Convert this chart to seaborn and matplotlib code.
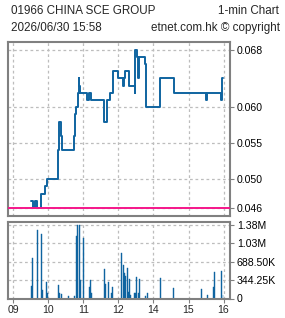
import matplotlib
matplotlib.use("Agg")
import matplotlib.pyplot as plt
import seaborn as sns
import pandas as pd

# ---------------- data ----------------
title_left = "01966 CHINA SCE GROUP"
title_right = "1-min Chart"
subtitle_left = "2026/06/30 15:58"
subtitle_right = "etnet.com.hk \u00a9 copyright"

price_times = ["09:31", "09:33", "09:38", "09:41", "09:48", "09:55", "09:57",
               "10:17", "10:18", "10:21", "10:23", "10:44", "10:46", "10:47",
               "10:50", "10:52", "10:53", "10:54", "11:06", "11:10", "11:13",
               "11:35", "11:41", "11:46", "11:50", "13:00", "13:07", "13:09",
               "13:11", "13:18", "13:28", "13:29", "13:31", "13:33", "13:34",
               "13:36", "13:45", "13:47", "13:48", "14:11", "14:12", "14:35",
               "15:30", "15:32", "15:56", "15:58", "15:59"]
price_values = [0.047, 0.046, 0.047, 0.046, 0.048, 0.049, 0.050,
                0.054, 0.058, 0.056, 0.054, 0.056, 0.059, 0.060,
                0.062, 0.064, 0.063, 0.062, 0.061, 0.062, 0.061,
                0.058, 0.061, 0.062, 0.065, 0.064, 0.063, 0.064,
                0.065, 0.063, 0.062, 0.068, 0.067, 0.066, 0.064,
                0.067, 0.066, 0.065, 0.060, 0.062, 0.064, 0.062,
                0.061, 0.062, 0.061, 0.064, 0.064]
prev_close = 0.046

vol_times = ["09:31", "09:33", "09:41", "09:48", "09:50", "09:57", "09:58",
             "10:17", "10:19", "10:22", "10:34", "10:45", "10:48", "10:50",
             "10:53", "10:55", "11:00", "11:10", "11:12", "11:14", "11:36",
             "11:38", "11:43", "11:48", "11:50", "13:05", "13:09", "13:10",
             "13:12", "13:15", "13:17", "13:19", "13:21", "13:27", "13:29",
             "13:31", "13:34", "13:36", "13:46", "13:50", "14:12", "14:35",
             "15:23", "15:33", "15:43", "15:45", "15:57", "15:59"]
vol_values = [225000, 750000, 1280000, 1200000, 150000, 300000, 94000,
              244000, 110000, 75000, 40000, 56000, 1180000, 1377000,
              1377000, 340000, 1130000, 210000, 340000, 94000, 560000,
              280000, 300000, 94000, 210000, 860000, 620000, 470000,
              430000, 580000, 120000, 360000, 60000, 94000, 94000,
              410000, 94000, 360000, 56000, 110000, 390000, 190000,
              180000, 60000, 210000, 490000, 510000, 60000]

x_tick_labels = ["09", "10", "11", "12", "14", "15", "16"]
x_tick_times = ["09:00", "10:00", "11:00", "12:00", "14:00", "15:00", "16:00"]
price_ticks = [0.046, 0.050, 0.055, 0.060, 0.068]
price_tick_labels = ["0.046", "0.050", "0.055", "0.060", "0.068"]
vol_ticks = [0, 344250, 688500, 1032750, 1377000]
vol_tick_labels = ["0", "344.25K", "688.50K", "1.03M", "1.38M"]


def trade_min(s):
    h, m = map(int, s.split(":"))
    t = (h - 9) * 60 + m
    if h >= 13:
        t -= 60  # lunch break removed
    return t


# ---------------- style ----------------
sns.set_style("white")
plt.rcParams["font.family"] = ["Liberation Sans", "DejaVu Sans"]

BLUE = "#0f64a0"
PINK = "#f5168a"
GRID = "#bdbdbd"
SPINE = "#808080"

fig = plt.figure(figsize=(2.85, 3.18), dpi=100)
ax1 = fig.add_axes([8 / 285, 1 - 216 / 318, 222 / 285, 174 / 318])
ax2 = fig.add_axes([8 / 285, 1 - 298.5 / 318, 222 / 285, 76.5 / 318])

price_df = pd.DataFrame({"t": [trade_min(s) for s in price_times],
                         "price": price_values})
vol_df = pd.DataFrame({"t": [trade_min(s) for s in vol_times],
                       "vol": vol_values})
xt = [trade_min(s) for s in x_tick_times]

# price panel
sns.lineplot(data=price_df, x="t", y="price", ax=ax1, color=BLUE, lw=1.4,
             drawstyle="steps-post", estimator=None, zorder=4)
ax1.axhline(prev_close, color=PINK, lw=1.4, zorder=5)

# volume panel
sns.barplot(data=vol_df, x="t", y="vol", ax=ax2, native_scale=True,
            color=BLUE, width=1.6, errorbar=None, linewidth=0.3,
            edgecolor=BLUE, saturation=1)

for ax in (ax1, ax2):
    ax.set_xlim(-9, 371)
    ax.set_xticks(xt)
    ax.set_xlabel("")
    ax.set_ylabel("")
    ax.grid(True, color=GRID, ls=(0, (2.2, 2.2)), lw=0.9)
    ax.set_axisbelow(True)
    for sp in ax.spines.values():
        sp.set_visible(True)
        sp.set_color(SPINE)
        sp.set_linewidth(1.5)
    ax.yaxis.tick_right()
    ax.tick_params(axis="y", which="both", direction="out", length=3,
                   width=0.8, color=SPINE, pad=2, labelsize=7.6,
                   labelcolor="black", left=False, right=True)

ax1.set_ylim(0.04490, 0.06907)
ax1.set_yticks(price_ticks)
ax1.set_yticklabels(price_tick_labels)
ax1.tick_params(axis="x", bottom=False, labelbottom=False)

ax2.set_ylim(0, 1.433e6)
ax2.set_yticks(vol_ticks)
ax2.set_yticklabels(vol_tick_labels)
ax2.set_xticklabels(x_tick_labels)
ax2.tick_params(axis="x", direction="out", length=3, width=0.8, color=SPINE,
                pad=1.5, labelsize=7.6, bottom=True)

# header text
fig.text(11 / 285, 1 - 11.5 / 318, title_left, fontsize=8.4, va="center", ha="left")
fig.text(279 / 285, 1 - 11.5 / 318, title_right, fontsize=8.4, va="center", ha="right")
fig.text(11 / 285, 1 - 28 / 318, subtitle_left, fontsize=8.4, va="center", ha="left")
fig.text(280 / 285, 1 - 28 / 318, subtitle_right, fontsize=8.4, va="center", ha="right")

fig.savefig("out.png", dpi=100, facecolor="white")
